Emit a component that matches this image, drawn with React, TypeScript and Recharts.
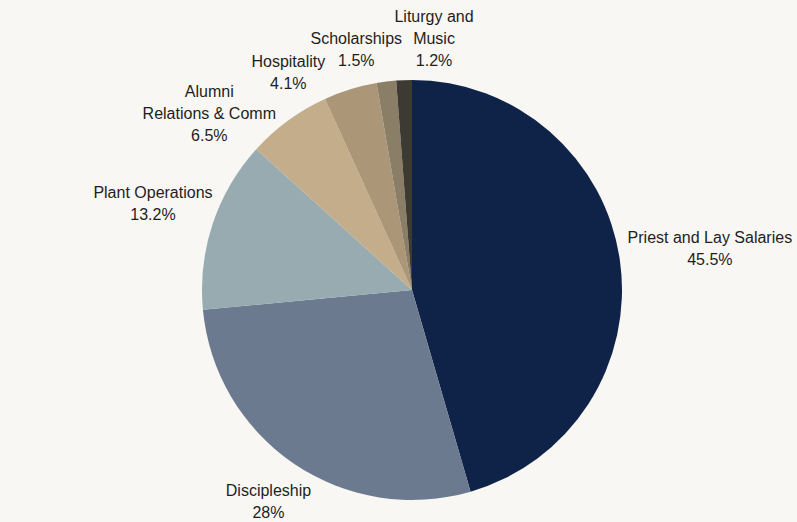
import { Cell, Pie, PieChart } from "recharts";

const categories = [
  "Priest and Lay Salaries",
  "Discipleship",
  "Plant Operations",
  "Alumni Relations & Comm",
  "Hospitality",
  "Scholarships",
  "Liturgy and Music",
];
const shares = [45.5, 28, 13.2, 6.5, 4.1, 1.5, 1.2];
// how each label wraps
const labelLines = [
  ["Priest and Lay Salaries"],
  ["Discipleship"],
  ["Plant Operations"],
  ["Alumni", "Relations & Comm"],
  ["Hospitality"],
  ["Scholarships"],
  ["Liturgy and", "Music"],
];

const colors = ["#0f2248", "#6b7a8e", "#97abb1", "#c4ad8b", "#ab9777", "#8a7e67", "#3d3933"];
// crowded labels get pushed aside a bit
const nudges = [
  [-7, -7],
  [7, 7],
  [9, -9],
  [-36, 32],
  [-46, 19],
  [-23, 5],
  [32, 7],
];

const data = categories.map((name, i) => ({ name, value: shares[i] }));

const LINE_H = 22;
const CHAR_W = 7.3;

function OutsideLabel(props: any) {
  const { cx, cy, midAngle, outerRadius, index, value } = props;
  const rad = (midAngle * Math.PI) / 180;
  const cos = Math.cos(rad);
  const sin = Math.sin(rad);
  const lines = [...labelLines[index], `${value}%`];
  const w = Math.max(...lines.map((l) => l.length)) * CHAR_W;
  const h = lines.length * 23;
  const r = outerRadius + 14;
  const x = cx + r * cos + (cos * w) / 2 + nudges[index][0];
  const y = cy - r * sin - (sin * h) / 2 + nudges[index][1];
  const top = y - ((lines.length - 1) * LINE_H) / 2;
  return (
    <text textAnchor="middle" fill="#1e1e1e" fontSize={16} fontFamily="'Liberation Sans', Arial, sans-serif">
      {lines.map((l, k) => (
        <tspan key={k} x={x} y={top + k * LINE_H} dominantBaseline="central">
          {l}
        </tspan>
      ))}
    </text>
  );
}

export default function App() {
  return (
    <div style={{ position: "absolute", left: 0, top: 0, width: 797, height: 522, background: "#f8f7f3" }}>
      <PieChart width={797} height={522} margin={{ top: 0, right: 0, bottom: 0, left: 0 }}>
        <Pie
          data={data}
          dataKey="value"
          nameKey="name"
          cx={412}
          cy={290}
          outerRadius={210}
          startAngle={90}
          endAngle={-270}
          stroke="none"
          labelLine={false}
          label={OutsideLabel}
          isAnimationActive={false}
        >
          {data.map((d, i) => (
            <Cell key={d.name} fill={colors[i]} />
          ))}
        </Pie>
      </PieChart>
    </div>
  );
}
